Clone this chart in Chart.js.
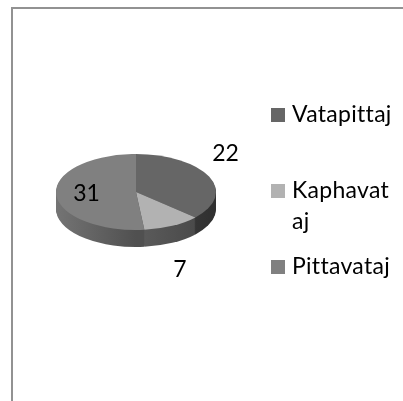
<!DOCTYPE html>
<html>
<head>
<meta charset="utf-8">
<script src="https://cdn.jsdelivr.net/npm/chart.js@4"></script>
<style>
    html, body { margin: 0; background: #fff; overflow: hidden; }
    #frame { position: absolute; left: 11px; top: 7px; right: 0; bottom: 0; border-left: 2px solid #929292; border-top: 2px solid #929292; }
    canvas { position: absolute; left: 0; top: 0; }
</style>
</head>
<body>
<div id="frame"></div>
<canvas id="pie-chart" width="403" height="401"></canvas>
<script>
const categories = ['Vatapittaj', 'Kaphavataj', 'Pittavataj'];
const values = [22, 7, 31];
const legendLines = [['Vatapittaj'], ['Kaphavat', 'aj'], ['Pittavataj']];

const topColors = ['#666666', '#b2b2b2', '#808080'];
const sideShades = [['#3e3e3e', '#2f2f2f'], ['#5c5c5c', '#4a4a4a'], ['#747474', '#505050']];

const tilt = 0.475;
const depth = 17;
const fontName = 'Lato, sans-serif';

// where the value label sits, relative to the slice's middle direction
const labelReach = [1.225, 1.21, 0.62];
const labelDrop = [-19, 37, 0];

const legendBoxX = 271;
const legendTextX = 292;
const legendRowY = [115, 191, 267];
const legendLineGap = 31;

function placeEllipse(ctx, arc, drop){
    ctx.translate(arc.x, arc.y + drop);
    ctx.scale(1, tilt);
    ctx.translate(-arc.x, -arc.y);
}

function sideFill(ctx, arc, i){
    // slice 3 gets darker going right, slices 1 and 2 going right as well
    let edges = [[arc.x + 30, arc.x + arc.outerRadius], [arc.x, arc.x + 60], [arc.x - arc.outerRadius, arc.x]][i];
    let fill = ctx.createLinearGradient(edges[0], 0, edges[1], 0);
    fill.addColorStop(0, sideShades[i][0]);
    fill.addColorStop(1, sideShades[i][1]);
    return fill;
}

const tiltedPie = {
    id: 'tiltedPie',
    beforeDatasetsDraw(chart){
        let ctx = chart.ctx;
        let arcs = chart.getDatasetMeta(0).data;
        for(let d = depth; d > 0; d--){
            ctx.save();
            placeEllipse(ctx, arcs[0], d);
            arcs.forEach((arc, i) => {
                let options = arc.options;
                arc.options = Object.assign({}, options, { backgroundColor: sideFill(ctx, arc, i) });
                arc.draw(ctx);
                arc.options = options;
            });
            ctx.restore();
        }
        ctx.save();
        placeEllipse(ctx, arcs[0], 0);
    },
    afterDatasetsDraw(chart){
        let ctx = chart.ctx;
        ctx.restore();

        let arcs = chart.getDatasetMeta(0).data;
        ctx.save();
        ctx.fillStyle = '#000';
        ctx.font = '23px ' + fontName;
        ctx.textAlign = 'center';
        ctx.textBaseline = 'middle';
        arcs.forEach((arc, i) => {
            let mid = (arc.startAngle + arc.endAngle) / 2;
            let x = arc.x + Math.cos(mid) * arc.outerRadius * labelReach[i];
            let y = arc.y + Math.sin(mid) * arc.outerRadius * tilt * labelReach[i] + labelDrop[i];
            ctx.fillText(String(values[i]), x, y);
        });

        ctx.textAlign = 'left';
        ctx.textBaseline = 'alphabetic';
        ctx.letterSpacing = '0.3px';
        legendLines.forEach((lines, i) => {
            ctx.fillStyle = topColors[i];
            ctx.fillRect(legendBoxX, legendRowY[i] - 7, 14, 14);
            ctx.fillStyle = '#000';
            lines.forEach((line, n) => {
                ctx.fillText(line, legendTextX, legendRowY[i] + 7 + n * legendLineGap);
            });
        });
        ctx.restore();
    }
};

new Chart(document.getElementById('pie-chart'), {
    type: 'pie',
    data: {
        labels: categories,
        datasets: [
            {
                data: values,
                backgroundColor: topColors,
                borderWidth: 0
            }
        ]
    },
    options: {
        responsive: false,
        animation: false,
        events: [],
        layout: {
            padding: { left: 56, right: 187, top: 112, bottom: 129 }
        },
        plugins: {
            legend: { display: false },
            tooltip: { enabled: false }
        }
    },
    plugins: [tiltedPie]
});
</script>
</body>
</html>
